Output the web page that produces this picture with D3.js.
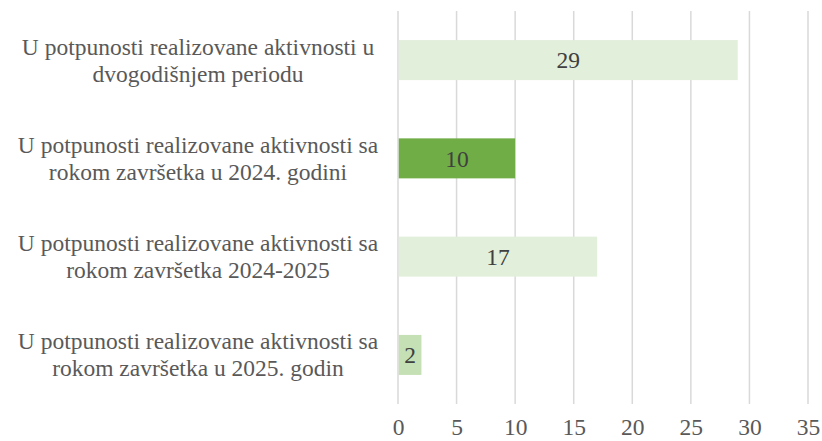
<!DOCTYPE html>
<html>
<head>
<meta charset="utf-8">
<script src="https://cdn.jsdelivr.net/npm/d3@7"></script>
<style>
  body { margin: 0; background: #fff; }
</style>
</head>
<body>
<svg id="chart" width="822" height="441"></svg>
<script>
// chart data
const categories = [
  ["U potpunosti realizovane aktivnosti u", "dvogodišnjem periodu"],
  ["U potpunosti realizovane aktivnosti sa", "rokom završetka u 2024. godini"],
  ["U potpunosti realizovane aktivnosti sa", "rokom završetka 2024-2025"],
  ["U potpunosti realizovane aktivnosti sa", "rokom završetka u 2025. godin"]
];
const values = [29, 10, 17, 2];
const barColors = ["#e2efda", "#70ad47", "#e2efda", "#c5e0b4"];
const ticks = [0, 5, 10, 15, 20, 25, 30, 35];

const serif = "'Liberation Serif'";
const fontSize = "23.5px";
const svg = d3.select("#chart");
const plotLeft = 398, plotRight = 808, plotTop = 11, plotBottom = 404;

let x = d3.scaleLinear().domain([0, 35]).range([plotLeft, plotRight]);
let y = d3.scaleBand()
  .domain(d3.range(categories.length))
  .range([plotTop, plotBottom])
  .paddingInner(0.593)
  .paddingOuter(0.296);

// gridlines
svg.append("g")
  .selectAll("line")
  .data(ticks)
  .enter()
  .append("line")
  .attr("x1", d => x(d))
  .attr("x2", d => x(d))
  .attr("y1", plotTop)
  .attr("y2", plotBottom)
  .attr("stroke", "#d9d9d9")
  .attr("stroke-width", 1.5);

// x tick labels
let xAxis = d3.axisBottom(x).tickValues(ticks).tickSize(0).tickPadding(0);
svg.append("g")
  .attr("transform", "translate(0," + 418 + ")")
  .call(xAxis)
  .call(g => g.select(".domain").remove())
  .selectAll("text")
    .style("font-family", serif)
    .style("font-size", fontSize)
    .attr("fill", "#595959");

// bars
svg.append("g")
  .selectAll("rect")
  .data(values)
  .enter()
  .append("rect")
  .attr("x", x(0) + 0.75)
  .attr("y", (d, i) => y(i))
  .attr("width", d => x(d) - x(0) - 0.75)
  .attr("height", y.bandwidth())
  .attr("fill", (d, i) => barColors[i]);

// value labels
svg.append("g")
  .selectAll("text")
  .data(values)
  .enter()
  .append("text")
  .attr("x", d => (x(0) + x(d)) / 2 + 0.5)
  .attr("y", (d, i) => y(i) + y.bandwidth() / 2)
  .attr("dy", "0.35em")
  .attr("text-anchor", "middle")
  .style("font-family", serif)
  .style("font-size", fontSize)
  .attr("fill", "#404040")
  .text(d => d);

// category labels
let cat = svg.append("g")
  .selectAll("text")
  .data(categories)
  .enter()
  .append("text")
  .attr("text-anchor", "middle")
  .style("font-family", serif)
  .style("font-size", fontSize)
  .attr("fill", "#595959")
  .attr("x", 198)
  .attr("y", (d, i) => y(i) + y.bandwidth() / 2);

cat.selectAll("tspan")
  .data(d => d)
  .enter()
  .append("tspan")
  .attr("x", 198)
  .attr("dy", (d, j) => j == 0 ? -5.5 : 27)
  .text(d => d);
</script>
</body>
</html>
